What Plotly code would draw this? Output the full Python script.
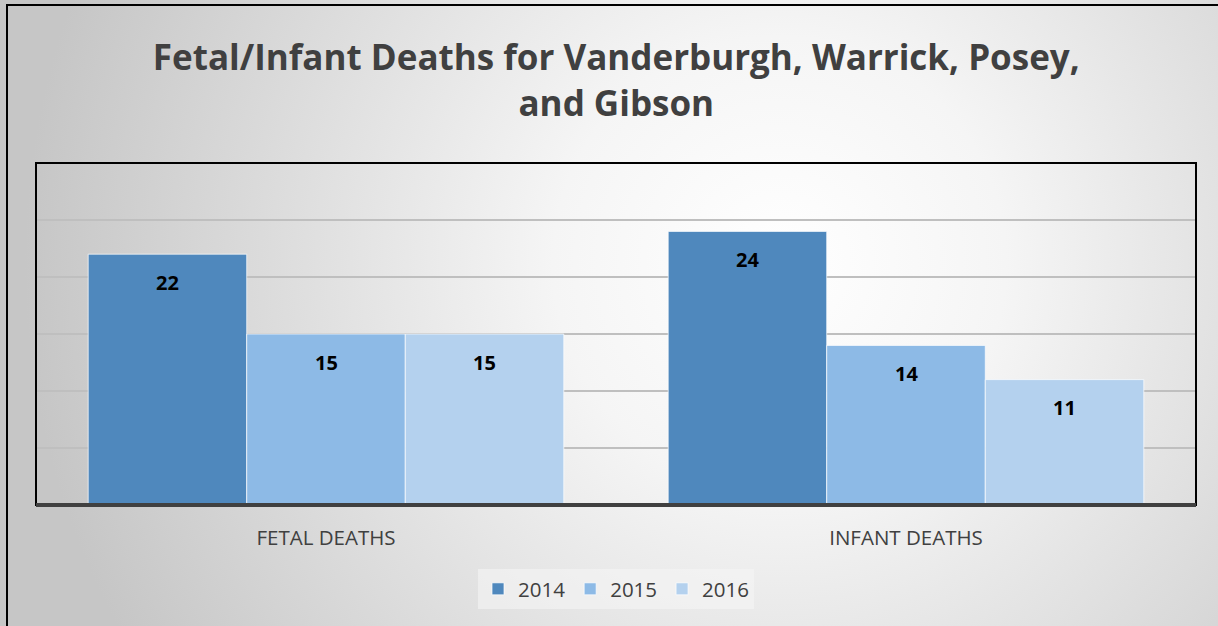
import base64
import plotly.graph_objects as go

categories = ["FETAL DEATHS", "INFANT DEATHS"]
years = ["2014", "2015", "2016"]
values_2014 = [22, 24]
values_2015 = [15, 14]
values_2016 = [15, 11]
series = [values_2014, values_2015, values_2016]
colors = ["#4F88BD", "#8DBAE6", "#B4D1EE"]

W, H = 1218, 626
ML, MR, MT, MB = 36, 22, 163, 121
PW, PH = W - ML - MR, H - MT - MB
BARGAP = 0.18
FONT = "Open Sans"

svg = f'''<svg xmlns="http://www.w3.org/2000/svg" width="{W}" height="{H}" viewBox="0 0 {W} {H}" preserveAspectRatio="none">
<defs><radialGradient id="g" cx="{0.64*W}" cy="{0.42*H}" r="{0.62*W}" gradientUnits="userSpaceOnUse">
<stop offset="0" stop-color="#ffffff"/><stop offset="0.3" stop-color="#f5f5f5"/><stop offset="1" stop-color="#c6c6c6"/>
</radialGradient></defs><rect x="0" y="0" width="{W}" height="{H}" fill="url(#g)"/></svg>'''
src = "data:image/svg+xml;base64," + base64.b64encode(svg.encode()).decode()

fig = go.Figure()
for yr, vals, col in zip(years, series, colors):
    fig.add_trace(go.Bar(
        x=categories, y=vals, name=yr,
        marker=dict(color=col, line=dict(color="rgba(255,255,255,0.7)", width=1)),
    ))

# data labels placed inside the top of each bar
bar_px = PW / len(categories) * (1 - BARGAP) / len(years)
annotations = []
for j, vals in enumerate(series):
    for cat, v in zip(categories, vals):
        annotations.append(dict(
            x=cat, y=v, xref="x", yref="y", text=f"<b>{v}</b>", showarrow=False,
            xshift=(j - (len(years) - 1) / 2) * bar_px, yshift=-28, yanchor="middle",
            font=dict(family=FONT, size=20, color="#000000"),
        ))

def px_x(p):
    return (p - ML) / PW

def px_y(p):
    return (H - MB - p) / PH

fig.update_layout(
    width=W, height=H,
    margin=dict(l=ML, r=MR, t=MT, b=MB, pad=0),
    barmode="group", bargap=BARGAP, bargroupgap=0,
    paper_bgcolor="#d8d8d8", plot_bgcolor="rgba(0,0,0,0)",
    title=dict(text="Fetal/Infant Deaths for Vanderburgh, Warrick, Posey,<br>and Gibson",
               x=0.506, xanchor="center", y=0.888, yanchor="middle",
               font=dict(family=FONT, size=35, color="#404040", weight="bold")),
    font=dict(family=FONT, color="#404040"),
    xaxis=dict(showgrid=False, showline=False, ticks="", tickfont=dict(size=20.5, color="#404040"),
               ticklabelstandoff=18),
    yaxis=dict(range=[0, 30], dtick=5, showticklabels=False, showgrid=True, gridcolor="#BFBFBF",
               gridwidth=1.5, zeroline=False, showline=False, ticks=""),
    legend=dict(orientation="h", x=0.5, xanchor="center", y=px_y(589), yanchor="middle",
                bgcolor="rgba(245,245,245,0.6)", font=dict(size=20.5, color="#404040"),
                itemwidth=30, traceorder="normal"),
    annotations=annotations,
    images=[dict(source=src, xref="paper", yref="paper", x=px_x(0), y=px_y(0),
                 sizex=W / PW, sizey=H / PH, xanchor="left", yanchor="top",
                 sizing="stretch", layer="below")],
    shapes=[
        dict(type="rect", xref="paper", yref="paper", x0=0, x1=1, y0=0, y1=1,
             line=dict(color="#000000", width=2), layer="above"),
        dict(type="line", xref="paper", yref="paper", x0=0, x1=1, y0=0, y1=0,
             line=dict(color="#404040", width=4), layer="above"),
        dict(type="rect", xref="paper", yref="paper", x0=px_x(7), x1=px_x(W + 20),
             y0=px_y(H + 20), y1=px_y(5), line=dict(color="#000000", width=2), layer="above"),
    ],
)

fig.write_html("out.html", config={"displayModeBar": False},
               post_script="document.body.style.margin='0';")
